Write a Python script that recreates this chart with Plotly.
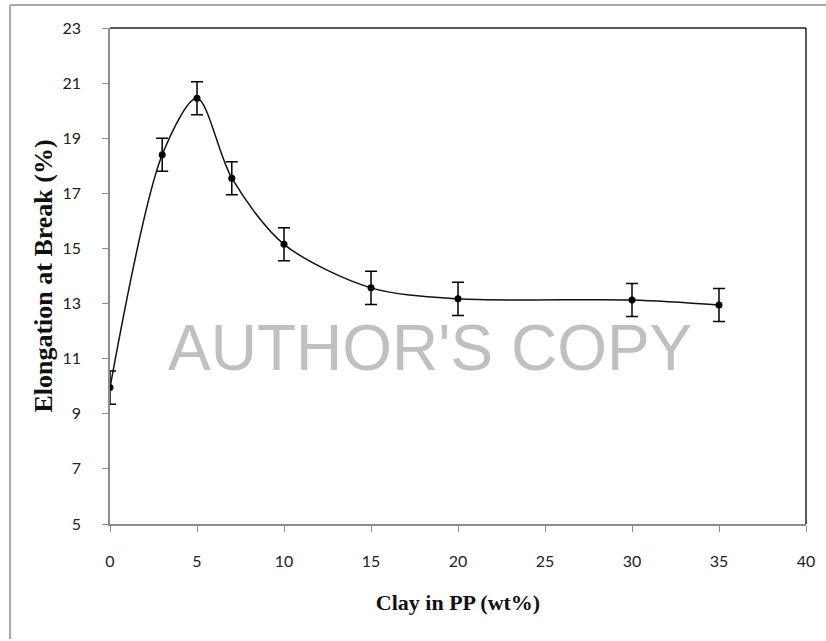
import plotly.graph_objects as go

# Clay loading (wt%) and elongation at break (%)
clay_wt = [0, 3, 5, 7, 10, 15, 20, 30, 35]
elongation = [9.95, 18.4, 20.45, 17.55, 15.15, 13.57, 13.17, 13.13, 12.95]
elong_err = [0.6, 0.6, 0.6, 0.6, 0.6, 0.6, 0.6, 0.6, 0.6]

x_ticks = [0, 5, 10, 15, 20, 25, 30, 35, 40]
y_ticks = [5, 7, 9, 11, 13, 15, 17, 19, 21, 23]

fig = go.Figure()
fig.add_trace(go.Scatter(
    x=clay_wt, y=elongation,
    mode="lines+markers",
    line=dict(color="#111111", width=1.5, shape="spline", smoothing=0.85),
    marker=dict(color="#000000", size=7),
    error_y=dict(type="data", array=elong_err, visible=True,
                 color="#000000", thickness=1.5, width=6),
    showlegend=False,
))

axis_font = dict(family="Lato, Carlito, DejaVu Sans", size=16, color="#222222")

fig.update_xaxes(
    range=[0, 40], tickvals=x_ticks, ticktext=[str(v) for v in x_ticks],
    showgrid=False, zeroline=False,
    showline=True, linecolor="#8c8c8c", linewidth=1.5,
    ticks="outside", ticklen=6, tickcolor="#8c8c8c", tickwidth=1,
    tickfont=axis_font, ticklabelstandoff=16,
    title=dict(text="<b>Clay in PP (wt%)</b>",
               font=dict(family="Liberation Serif, Times New Roman, serif", size=22, color="#111111"),
               standoff=26),
)
fig.update_yaxes(
    range=[5, 23], tickvals=y_ticks, ticktext=[str(v) for v in y_ticks],
    showgrid=False, zeroline=False,
    showline=True, linecolor="#8c8c8c", linewidth=1.5,
    ticks="outside", ticklen=6, tickcolor="#8c8c8c", tickwidth=1,
    tickfont=axis_font, ticklabelstandoff=18,
    title=dict(text="<b>Elongation at Break (%)</b>",
               font=dict(family="Liberation Serif, Times New Roman, serif", size=26, color="#111111"),
               standoff=2),
)

# Plot-area border (top and right)
fig.add_shape(type="line", xref="paper", yref="paper", x0=0, x1=1, y0=1, y1=1,
              line=dict(color="#222222", width=1.5))
fig.add_shape(type="line", xref="paper", yref="paper", x0=1, x1=1, y0=0, y1=1,
              line=dict(color="#222222", width=1.5))
# Outer frame (top and left edges)
fig.add_shape(type="line", xref="paper", yref="paper",
              x0=-100/696, x1=716/696, y0=1 + 23/496, y1=1 + 23/496,
              line=dict(color="#a8a8a8", width=2))
fig.add_shape(type="line", xref="paper", yref="paper",
              x0=-100/696, x1=-100/696, y0=1 + 23/496, y1=-115/496,
              line=dict(color="#a8a8a8", width=2))

fig.add_annotation(
    text="AUTHOR'S COPY", xref="x", yref="y", x=18.4, y=11.4,
    showarrow=False,
    font=dict(family="Liberation Sans, Arial", size=64, color="#c0c0c0"),
)

fig.update_layout(
    width=826, height=641,
    margin=dict(l=110, r=20, t=28, b=117),
    paper_bgcolor="white", plot_bgcolor="white",
)

fig.write_html("out.html")
